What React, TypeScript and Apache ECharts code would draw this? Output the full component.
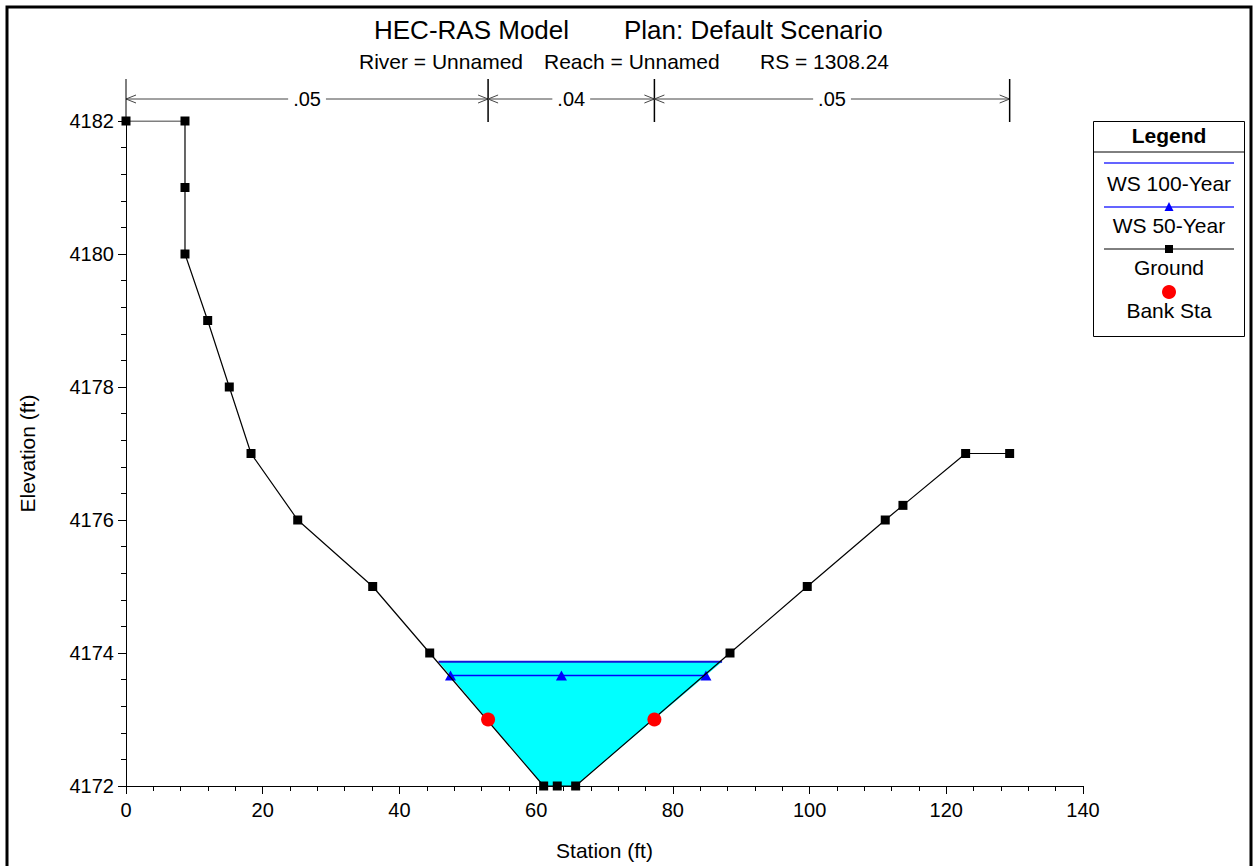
import React, { useEffect, useRef } from "react";
import * as echarts from "echarts";

// ---- Data ----
const groundStation = [0, 8.63, 8.63, 8.63, 11.95, 15.11, 18.29, 25.12, 36.09, 44.43, 61.1, 63.09, 65.78, 88.36, 99.66, 111.07, 113.66, 122.83, 129.27];
const groundElev = [4182, 4182, 4181, 4180, 4179, 4178, 4177, 4176, 4175, 4174, 4172, 4172, 4172, 4174, 4175, 4176, 4176.22, 4177, 4177];

const ws100Station = [45.72, 87.2];
const ws100Elev = [4173.87, 4173.87];

const ws50Station = [47.47, 63.7, 84.84];
const ws50Elev = [4173.66, 4173.66, 4173.66];

const bankStation = [52.97, 77.3];
const bankElev = [4173.0, 4173.0];

const nStart = [0, 52.97, 77.3];
const nEnd = [52.97, 77.3, 129.27];
const nLabel = [".05", ".04", ".05"];

const xTicks = { min: 0, max: 140, interval: 20 };
const yTicks = { min: 4172, max: 4182, interval: 2 };

const FONT = "'Liberation Sans', Arial, Helvetica, sans-serif";

export default function App() {
  const ref = useRef<HTMLDivElement>(null);

  useEffect(() => {
    document.body.style.margin = "0";
    const chart = echarts.init(ref.current!, null, { renderer: "svg" });

    const pair = (xs: number[], ys: number[]) => xs.map((x, i) => [x, ys[i]]);

    // wetted polygon: WS100 surface + ground points below it
    const wetPolygon: number[][] = [[ws100Station[0], ws100Elev[0]]];
    groundStation.forEach((s, i) => {
      if (s > ws100Station[0] && s < ws100Station[1]) wetPolygon.push([s, groundElev[i]]);
    });
    wetPolygon.push([ws100Station[1], ws100Elev[1]]);

    const legendText = (text: string, y: number, bold = false) => ({
      type: "text",
      x: 1169,
      y,
      style: { text, fontSize: 21, fontWeight: bold ? "bold" : "normal", fontFamily: FONT, fill: "#000", align: "center", verticalAlign: "middle" },
    });

    const option: any = {
      animation: false,
      backgroundColor: "#ffffff",
      textStyle: { fontFamily: FONT },
      grid: { left: 126, right: 172, top: 121, bottom: 80, containLabel: false },
      xAxis: {
        type: "value",
        min: xTicks.min,
        max: xTicks.max,
        interval: xTicks.interval,
        name: "Station (ft)",
        nameLocation: "middle",
        nameGap: 54,
        nameTextStyle: { fontSize: 21, color: "#000", fontFamily: FONT },
        axisLine: { show: true, onZero: false, lineStyle: { color: "#000", width: 1 } },
        axisTick: { show: true, length: 8, lineStyle: { color: "#000" } },
        minorTick: { show: true, splitNumber: 5, length: 5, lineStyle: { color: "#000" } },
        splitLine: { show: false },
        axisLabel: { fontSize: 20, color: "#000", margin: 14, fontFamily: FONT, formatter: (v: number) => String(v) },
      },
      yAxis: {
        type: "value",
        min: yTicks.min,
        max: yTicks.max,
        interval: yTicks.interval,
        name: "Elevation (ft)",
        nameLocation: "middle",
        nameGap: 88,
        nameTextStyle: { fontSize: 21, color: "#000", fontFamily: FONT },
        axisLine: { show: true, onZero: false, lineStyle: { color: "#000", width: 1 } },
        axisTick: { show: true, length: 8, lineStyle: { color: "#000" } },
        minorTick: { show: true, splitNumber: 5, length: 5, lineStyle: { color: "#000" } },
        splitLine: { show: false },
        axisLabel: { fontSize: 20, color: "#000", margin: 12, fontFamily: FONT, formatter: (v: number) => String(v) },
      },
      series: [
        {
          type: "custom",
          name: "Water",
          silent: true,
          clip: true,
          z: 1,
          data: [0],
          renderItem: (_params: any, api: any) => ({
            type: "polygon",
            shape: { points: wetPolygon.map((p) => api.coord(p)) },
            style: { fill: "#00ffff" },
          }),
        },
        {
          type: "line",
          name: "WS 100-Year",
          z: 3,
          data: pair(ws100Station, ws100Elev),
          showSymbol: false,
          symbol: "none",
          lineStyle: { color: "#1414d8", width: 2 },
        },
        {
          type: "line",
          name: "WS 50-Year",
          z: 3,
          data: pair(ws50Station, ws50Elev),
          symbol: "triangle",
          symbolSize: [11, 10],
          itemStyle: { color: "#0000ff" },
          lineStyle: { color: "#0000ff", width: 1.5 },
        },
        {
          type: "line",
          name: "Ground",
          z: 4,
          data: pair(groundStation, groundElev),
          symbol: "rect",
          symbolSize: 9,
          itemStyle: { color: "#000" },
          lineStyle: { color: "#000", width: 1.2 },
        },
        {
          type: "scatter",
          name: "Bank Sta",
          z: 5,
          data: pair(bankStation, bankElev),
          symbol: "circle",
          symbolSize: 14,
          itemStyle: { color: "#ff0000", opacity: 1 },
        },
        {
          type: "custom",
          name: "n values",
          silent: true,
          clip: false,
          z: 6,
          data: nStart.map((s, i) => [s, nEnd[i]]),
          renderItem: (params: any, api: any) => {
            const s = api.value(0);
            const e = api.value(1);
            const a = api.coord([s, yTicks.max]);
            const b = api.coord([e, yTicks.max]);
            const y = a[1] - 22;
            const top = a[1] - 42;
            const bot = a[1] + 1;
            const mid = (a[0] + b[0]) / 2;
            const ls = { stroke: "#444", lineWidth: 1, fill: null };
            const children: any[] = [
              { type: "line", shape: { x1: a[0], y1: y, x2: b[0], y2: y }, style: ls },
              { type: "polyline", shape: { points: [[a[0] + 10, y - 4], [a[0], y], [a[0] + 10, y + 4]] }, style: ls },
              { type: "polyline", shape: { points: [[b[0] - 10, y - 4], [b[0], y], [b[0] - 10, y + 4]] }, style: ls },
              { type: "line", shape: { x1: b[0], y1: top, x2: b[0], y2: bot }, style: { stroke: "#000", lineWidth: 1.5 } },
              {
                type: "text",
                x: mid,
                y: y,
                style: {
                  text: nLabel[params.dataIndex],
                  fontSize: 20,
                  fontFamily: FONT,
                  fill: "#000",
                  align: "center",
                  verticalAlign: "middle",
                  backgroundColor: "#fff",
                  padding: [0, 5],
                },
              },
            ];
            if (params.dataIndex === 0) {
              children.push({ type: "line", shape: { x1: a[0], y1: top, x2: a[0], y2: bot }, style: { stroke: "#000", lineWidth: 1 } });
            }
            return { type: "group", children };
          },
        },
      ],
      graphic: [
        // outer frame
        { type: "rect", shape: { x: 7, y: 7, width: 1244, height: 900 }, style: { fill: "none", stroke: "#000", lineWidth: 3 }, z: 100 },
        // titles
        { type: "text", x: 374, y: 30, style: { text: "HEC-RAS Model", fontSize: 26, fontFamily: FONT, fill: "#000", verticalAlign: "middle" } },
        { type: "text", x: 624, y: 30, style: { text: "Plan: Default Scenario", fontSize: 26, fontFamily: FONT, fill: "#000", verticalAlign: "middle" } },
        { type: "text", x: 359, y: 61.5, style: { text: "River = Unnamed", fontSize: 21, fontFamily: FONT, fill: "#000", verticalAlign: "middle" } },
        { type: "text", x: 544, y: 61.5, style: { text: "Reach = Unnamed", fontSize: 21, fontFamily: FONT, fill: "#000", verticalAlign: "middle" } },
        { type: "text", x: 760, y: 61.5, style: { text: "RS = 1308.24", fontSize: 21, fontFamily: FONT, fill: "#000", verticalAlign: "middle" } },
        // legend box
        { type: "rect", shape: { x: 1093.5, y: 121.5, width: 151, height: 215 }, style: { fill: "#fff", stroke: "#000", lineWidth: 1 } },
        { type: "line", shape: { x1: 1093.5, y1: 152, x2: 1244.5, y2: 152 }, style: { stroke: "#000", lineWidth: 1 } },
        legendText("Legend", 135, true),
        { type: "line", shape: { x1: 1104, y1: 163, x2: 1234, y2: 163 }, style: { stroke: "#3030ff", lineWidth: 1.5 } },
        legendText("WS 100-Year", 183),
        { type: "line", shape: { x1: 1104, y1: 207, x2: 1234, y2: 207 }, style: { stroke: "#3030ff", lineWidth: 1.5 } },
        { type: "polygon", shape: { points: [[1164.5, 211], [1173.5, 211], [1169, 202]] }, style: { fill: "#0000ff" } },
        legendText("WS 50-Year", 225),
        { type: "line", shape: { x1: 1104, y1: 249, x2: 1234, y2: 249 }, style: { stroke: "#000", lineWidth: 1 } },
        { type: "rect", shape: { x: 1165, y: 245, width: 8, height: 8 }, style: { fill: "#000" } },
        legendText("Ground", 267),
        { type: "circle", shape: { cx: 1169, cy: 292, r: 7 }, style: { fill: "#ff0000" } },
        legendText("Bank Sta", 310),
      ],
    };

    chart.setOption(option);
    return () => chart.dispose();
  }, []);

  return <div ref={ref} style={{ position: "fixed", left: 0, top: 0, width: 1255, height: 866 }} />;
}
